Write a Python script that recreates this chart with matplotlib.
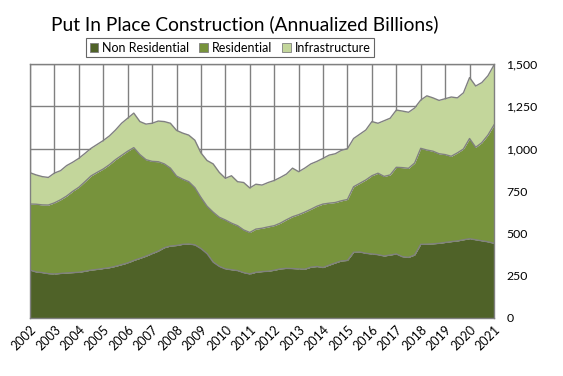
import numpy as np
import matplotlib
matplotlib.use("Agg")
import matplotlib.pyplot as plt
from matplotlib.patches import Patch

plt.rcParams['font.family'] = ['Lato', 'DejaVu Sans']

# quarterly dates from 2002.00 to 2021.00
dates = np.arange(2002.0, 2021.01, 0.25)

non_residential = [283, 272, 268, 262, 260, 263, 266, 268, 270, 276, 283, 287, 292, 297, 305, 315,
                   325, 340, 352, 365, 380, 395, 415, 425, 428, 435, 437, 432, 410, 380, 330, 305,
                   290, 285, 280, 268, 260, 270, 274, 276, 282, 290, 293, 292, 290, 288, 300, 304,
                   298, 312, 325, 337, 340, 388, 390, 382, 378, 374, 366, 372, 378, 362, 358, 372,
                   435, 436, 438, 441, 446, 451, 455, 462, 468, 462, 456, 450, 441]
residential = [390, 400, 400, 405, 420, 435, 454, 480, 502, 529, 556, 573, 588, 608, 630, 645,
               660, 666, 613, 570, 545, 528, 495, 460, 410, 385, 368, 338, 302, 280, 295, 290,
               289, 275, 265, 252, 245, 255, 256, 262, 263, 270, 287, 306, 320, 337, 342, 356,
               375, 366, 357, 355, 360, 387, 405, 433, 462, 481, 470, 473, 512, 526, 526, 543,
               567, 556, 547, 529, 519, 504, 520, 536, 592, 546, 579, 630, 699]
infrastructure = [185, 173, 167, 163, 176, 172, 180, 172, 171, 167, 163, 165, 168, 170, 175, 190,
                  195, 204, 195, 210, 225, 240, 250, 265, 270, 272, 275, 280, 263, 270, 285, 265,
                  246, 280, 260, 280, 263, 265, 255, 262, 267, 270, 270, 287, 254, 260, 268, 265,
                  270, 284, 288, 298, 300, 285, 290, 295, 320, 295, 329, 335, 338, 334, 331, 325,
                  285, 320, 315, 315, 330, 350, 325, 332, 360, 362, 355, 350, 354]
series_names = ["Non Residential", "Residential", "Infrastructure"]
years = list(range(2002, 2022))
y_ticks = [0, 250, 500, 750, 1000, 1250, 1500]

colors = ["#4F6228", "#77933C", "#C3D69B"]
edge = "#808080"

fig = plt.figure(figsize=(5.63, 3.76), dpi=100)
ax = fig.add_axes([30/563, 1-318/376, (494-30)/563, (318-64)/376])

stack = np.vstack([non_residential, residential, infrastructure]).astype(float)
cum = np.cumsum(stack, axis=0)
lower = np.zeros(len(dates))
for i in range(3):
    ax.fill_between(dates, lower, cum[i], color=colors[i], linewidth=0, zorder=2)
    ax.plot(dates, cum[i], color=edge, linewidth=1.0, zorder=3)
    lower = cum[i]

ax.set_xlim(2002, 2021)
ax.set_ylim(0, 1500)
ax.set_xticks(years)
ax.set_xticklabels([str(y) for y in years], rotation=45, ha='right', va='top',
                   rotation_mode='anchor', fontsize=9)
ax.set_yticks(y_ticks)
ax.set_yticklabels([f"{v:,}" for v in y_ticks], fontsize=8.8)
ax.yaxis.tick_right()
ax.tick_params(axis='both', length=0)
ax.tick_params(axis='y', pad=9)
ax.tick_params(axis='x', pad=4)
ax.grid(True, color=edge, linewidth=1.0, zorder=0)
ax.set_axisbelow(True)
for s in ax.spines.values():
    s.set_color(edge)
    s.set_linewidth(1.0)
    s.set_zorder(4)

fig.text(245/563, 1 - 24/376, "Put In Place Construction (Annualized Billions)",
         ha='center', va='center', fontsize=13.8)

handles = [Patch(facecolor=c, edgecolor=edge, linewidth=0.6) for c in colors]
leg = fig.legend(handles, series_names, loc='center', bbox_to_anchor=(230/563, 1 - 47.5/376),
                 ncol=3, fontsize=9, frameon=True, fancybox=False, edgecolor='#404040',
                 handlelength=0.7, handleheight=0.7, handletextpad=0.3, columnspacing=0.8,
                 borderpad=0.25, borderaxespad=0)
leg.get_frame().set_linewidth(0.8)

fig.savefig("out.png", dpi=100)
